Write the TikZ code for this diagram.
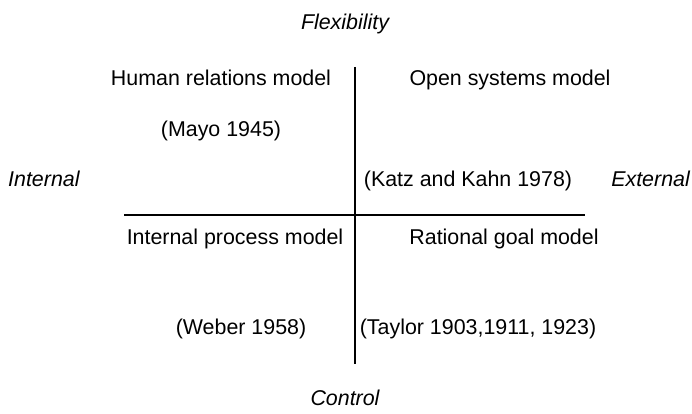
\documentclass[tikz,border=0pt]{standalone}
\usepackage{fontspec}
\setmainfont{Liberation Sans}
\tikzset{
        model/.style={anchor=base, inner sep=0pt, font=\fontsize{21.4}{25}\selectfont},
        pole/.style={model, font=\fontsize{21.4}{25}\selectfont\itshape},
        axis/.style={draw=black, line width=1.5pt}
          }
\begin{document}
\begin{tikzpicture}[x=1pt, y=-1pt]
        \useasboundingbox (0,0) rectangle (692,414);
        % axes
        \coordinate (top) at (355,67);
        \coordinate (bottom) at (355,364);
        \coordinate (left) at (124,215);
        \coordinate (right) at (585,215);
        \draw[axis] (top) -- (bottom);
        \draw[axis] (left) -- (right);
        % poles
        \node[pole] (flex) at (345,30) {Flexibility};
        \node[pole] (ctrl) at (345,405) {Control};
        \node[pole, anchor=base west] (int) at (8,186) {Internal};
        \node[pole, anchor=base east] (ext) at (690,186) {External};
        % quadrants
        \node[model] (hr) at (221,86) {Human relations model};
        \node[model] (hrref) at (221,136) {(Mayo 1945)};
        \node[model] (os) at (510,86) {Open systems model};
        \node[model] (osref) at (468,186) {(Katz and Kahn 1978)};
        \node[model] (ip) at (235,244) {Internal process model};
        \node[model] (ipref) at (241,334) {(Weber 1958)};
        \node[model] (rg) at (504,244) {Rational goal model};
        \node[model] (rgref) at (478,334) {(Taylor 1903,1911, 1923)};
      \end{tikzpicture}
\end{document}
